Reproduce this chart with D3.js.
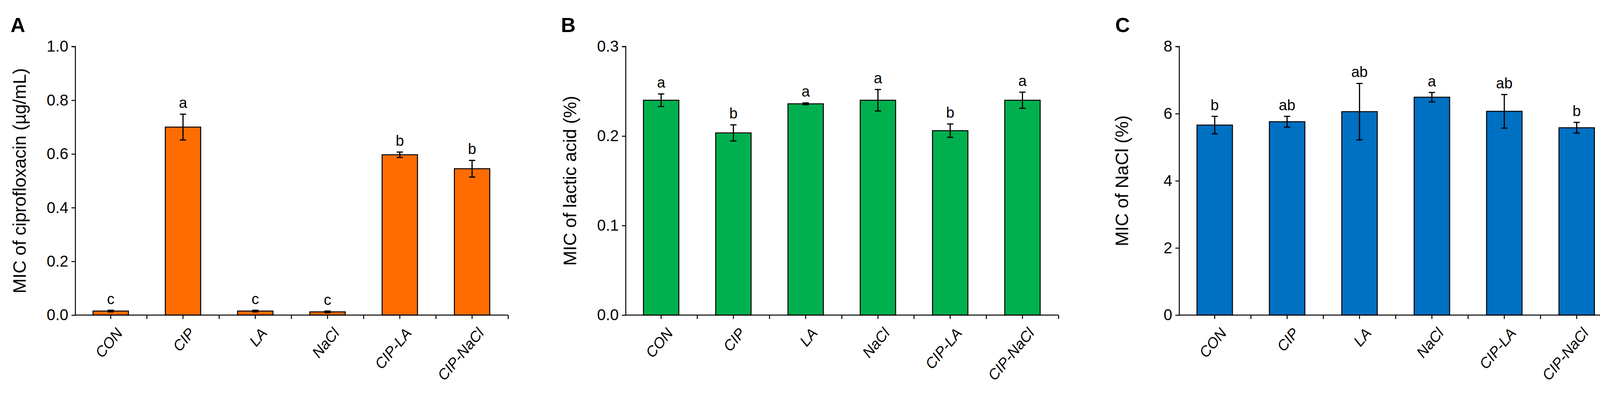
<!DOCTYPE html>
<html>
<head>
<meta charset="utf-8">
<script src="https://cdn.jsdelivr.net/npm/d3@7"></script>
<style>
  body { margin: 0; background: #fff; }
  text { font-family: Arial, "Liberation Sans", sans-serif; }
</style>
</head>
<body>
<svg width="4142" height="1013"></svg>
<script>
// categories shared by all three panels
var groups = ['CON', 'CIP', 'LA', 'NaCl', 'CIP-LA', 'CIP-NaCl'];

// A: ciprofloxacin
var cipMean = [0.015, 0.70, 0.015, 0.012, 0.597, 0.545];
var cipErr = [0.003, 0.048, 0.003, 0.003, 0.010, 0.031];
var cipSig = ['c', 'a', 'c', 'c', 'b', 'b'];
var cipTicks = [0, 0.2, 0.4, 0.6, 0.8, 1.0];

// B: lactic acid
var laMean = [0.240, 0.2035, 0.236, 0.240, 0.206, 0.240];
var laErr = [0.007, 0.009, 0.001, 0.012, 0.0075, 0.009];
var laSig = ['a', 'b', 'a', 'a', 'b', 'a'];
var laTicks = [0, 0.1, 0.2, 0.3];

// C: NaCl
var naMean = [5.66, 5.76, 6.06, 6.49, 6.07, 5.58];
var naErr = [0.26, 0.16, 0.84, 0.14, 0.50, 0.16];
var naSig = ['b', 'ab', 'ab', 'a', 'ab', 'b'];
var naTicks = [0, 2, 4, 6, 8];

var svg = d3.select('svg');

var panels = [
  { tag: 'A', tagX: 27, labX: 50, x0: 191, x1: 1301, max: 1.0, ticks: cipTicks, fmt: d3.format('.1f'),
    mean: cipMean, err: cipErr, sig: cipSig, color: '#FF6D00', label: 'MIC of ciprofloxacin (\u00b5g/mL)' },
  { tag: 'B', tagX: 1436, labX: 1459, x0: 1600, x1: 2710, max: 0.3, ticks: laTicks, fmt: d3.format('.1f'),
    mean: laMean, err: laErr, sig: laSig, color: '#00B04F', label: 'MIC of lactic acid (%)' },
  { tag: 'C', tagX: 2855, labX: 2872, x0: 3017, x1: 4129, max: 8, ticks: naTicks, fmt: d3.format('d'),
    mean: naMean, err: naErr, sig: naSig, color: '#0070C3', label: 'MIC of NaCl (%)' }
];

var plotTop = 119, plotBottom = 806;

panels.forEach(function(p) {
  var g = svg.append('g');
  var x = d3.scaleBand().domain(groups).range([p.x0, p.x1]).paddingInner(0.51).paddingOuter(0.255);
  var y = d3.scaleLinear().domain([0, p.max]).range([plotBottom, plotTop]);
  var step = x.step();

  // panel letter
  g.append('text').attr('x', p.tagX).attr('y', 82)
    .attr('font-size', 52).attr('font-weight', 'bold').text(p.tag);

  // bars
  g.selectAll('rect').data(groups).enter().append('rect')
    .attr('x', function(d) { return x(d); })
    .attr('width', x.bandwidth())
    .attr('y', function(d, i) { return y(p.mean[i]); })
    .attr('height', function(d, i) { return plotBottom - y(p.mean[i]); })
    .attr('fill', p.color).attr('stroke', '#000').attr('stroke-width', 2.5);

  // error bars and letters
  groups.forEach(function(d, i) {
    var cx = x(d) + x.bandwidth() / 2;
    var hi = y(p.mean[i] + p.err[i]), lo = y(p.mean[i] - p.err[i]);
    var eb = g.append('g').attr('stroke', '#000').attr('stroke-width', 3);
    eb.append('line').attr('x1', cx).attr('x2', cx).attr('y1', hi).attr('y2', lo);
    eb.append('line').attr('x1', cx - 8).attr('x2', cx + 8).attr('y1', hi).attr('y2', hi);
    eb.append('line').attr('x1', cx - 8).attr('x2', cx + 8).attr('y1', lo).attr('y2', lo);
    g.append('text').attr('x', cx).attr('y', hi - 16)
      .attr('text-anchor', 'middle').attr('font-size', 38).text(p.sig[i]);
  });

  // y axis
  var ya = g.append('g').attr('transform', 'translate(' + (p.x0 + 2) + ',0)')
    .call(d3.axisLeft(y).tickValues(p.ticks).tickFormat(p.fmt).tickSize(10).tickPadding(8));
  ya.select('.domain').attr('stroke-width', 2.5).attr('d', 'M-10,' + plotTop + 'H0V' + plotBottom);
  ya.selectAll('.tick line').attr('stroke-width', 2.5);
  ya.selectAll('.tick text').attr('font-size', 40).attr('fill', '#000')
    .attr('font-family', 'Arial, "Liberation Sans", sans-serif');

  // x axis: ticks at centres and at boundaries
  var xa = g.append('g').attr('stroke', '#000').attr('stroke-width', 2.5);
  xa.append('line').attr('x1', p.x0).attr('x2', p.x1).attr('y1', plotBottom).attr('y2', plotBottom);
  var tickXs = [];
  groups.forEach(function(d) {
    var c = x(d) + x.bandwidth() / 2;
    tickXs.push(c, c + step / 2);
  });
  xa.selectAll('line.t').data(tickXs).enter().append('line').attr('class', 't')
    .attr('x1', function(d) { return d; }).attr('x2', function(d) { return d; })
    .attr('y1', plotBottom).attr('y2', plotBottom + 10);

  g.selectAll('text.cat').data(groups).enter().append('text')
    .attr('class', 'cat')
    .attr('transform', function(d) {
      return 'translate(' + (x(d) + x.bandwidth() / 2 + 12) + ',' + (plotBottom + 30) + ') rotate(-50)';
    })
    .attr('text-anchor', 'end').attr('dy', '0.7em')
    .attr('font-size', 38).attr('font-style', 'italic').text(function(d) { return d; });

  // y label
  g.append('text')
    .attr('transform', 'translate(' + p.labX + ',' + ((plotTop + plotBottom) / 2) + ') rotate(-90)')
    .attr('text-anchor', 'middle').attr('dy', '0.35em')
    .attr('font-size', 46).text(p.label);
});
</script>
</body>
</html>
